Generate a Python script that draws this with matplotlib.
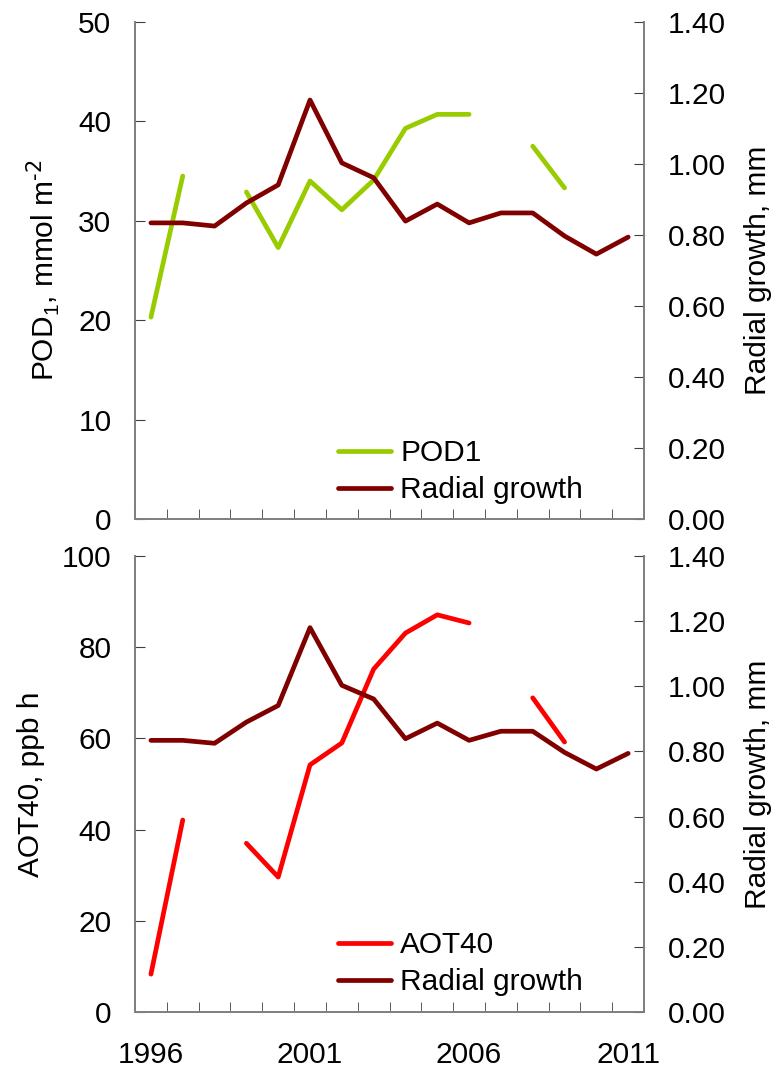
import numpy as np
import matplotlib
matplotlib.use('Agg')
import matplotlib.pyplot as plt

plt.rcParams['font.family'] = ['Liberation Sans', 'DejaVu Sans']

years = list(range(1996, 2012))
pod1 = [20.3, 34.5, np.nan, 32.9, 27.3, 34.0, 31.1, 34.1, 39.3, 40.7, 40.7, np.nan, 37.5, 33.3, np.nan, np.nan]
aot40 = [8.3, 42.1, np.nan, 37.0, 29.6, 54.2, 59.0, 75.2, 83.1, 87.1, 85.3, np.nan, 68.9, 59.2, np.nan, np.nan]
growth = [0.834, 0.834, 0.825, 0.890, 0.941, 1.180, 1.003, 0.961, 0.839, 0.887, 0.834, 0.862, 0.862, 0.797, 0.746, 0.794]

green = '#99cc00'
darkred = '#800000'
red = '#ff0000'
fs = 21.5

fig = plt.figure(figsize=(7.76, 10.69), dpi=100)
ax1 = fig.add_axes([0.174, 0.5145, 0.656, 0.465])
ax2 = fig.add_axes([0.174, 0.0533, 0.656, 0.4266])

x = np.arange(len(years))

def style(ax, axr, ymax, ystep, show_xlabels):
	for a in (ax, axr):
		a.spines['top'].set_visible(False)
		for s in ('left', 'right', 'bottom'):
			a.spines[s].set_color('#808080')
			a.spines[s].set_linewidth(1.3)
	ax.set_xlim(-0.5, len(years) - 0.5)
	ax.set_ylim(0, ymax)
	ax.set_yticks(np.arange(0, ymax + 0.1, ystep))
	axr.set_ylim(0, 1.4)
	axr.set_yticks(np.arange(0, 1.41, 0.2))
	axr.set_yticklabels(['%.2f' % v for v in np.arange(0, 1.41, 0.2)])
	ax.set_xticks([0, 5, 10, 15])
	if show_xlabels:
		ax.set_xticklabels([str(years[i]) for i in [0, 5, 10, 15]])
	else:
		ax.set_xticklabels([])
	ax.set_xticks(np.arange(-0.5, len(years), 1.0), minor=True)
	ax.tick_params(axis='x', which='major', length=0, labelsize=fs, pad=21)
	ax.tick_params(axis='x', which='minor', direction='in', length=7, color='#404040')
	ax.tick_params(axis='y', direction='in', length=7, labelsize=fs, pad=17, color='#404040')
	axr.tick_params(axis='y', direction='in', length=7, labelsize=fs, pad=17, color='#404040')

# top panel
ax1r = ax1.twinx()
l1, = ax1.plot(x, pod1, color=green, lw=3.4, solid_capstyle='round', label='POD1')
l2, = ax1r.plot(x, growth, color=darkred, lw=3.4, solid_capstyle='round', label='Radial growth')
style(ax1, ax1r, 50, 10, False)
ax1.set_ylabel('POD$_\\mathregular{1}$, mmol m$^\\text{-2}$', fontsize=fs, labelpad=12)
ax1r.set_ylabel('Radial growth, mm', fontsize=fs, labelpad=13)
ax1r.legend([l1, l2], ['POD1', 'Radial growth'], loc='lower left', bbox_to_anchor=(0.345, -0.024),
	frameon=False, fontsize=fs, handlelength=1.8, handletextpad=0.3, labelspacing=0.3)

# bottom panel
ax2r = ax2.twinx()
l3, = ax2.plot(x, aot40, color=red, lw=3.4, solid_capstyle='round', label='AOT40')
l4, = ax2r.plot(x, growth, color=darkred, lw=3.4, solid_capstyle='round', label='Radial growth')
style(ax2, ax2r, 100, 20, True)
ax2.set_ylabel('AOT40, ppb h', fontsize=fs, labelpad=12)
ax2r.set_ylabel('Radial growth, mm', fontsize=fs, labelpad=13)
ax2r.legend([l3, l4], ['AOT40', 'Radial growth'], loc='lower left', bbox_to_anchor=(0.345, -0.024),
	frameon=False, fontsize=fs, handlelength=1.8, handletextpad=0.3, labelspacing=0.3)

plt.savefig('out.png', dpi=100)
